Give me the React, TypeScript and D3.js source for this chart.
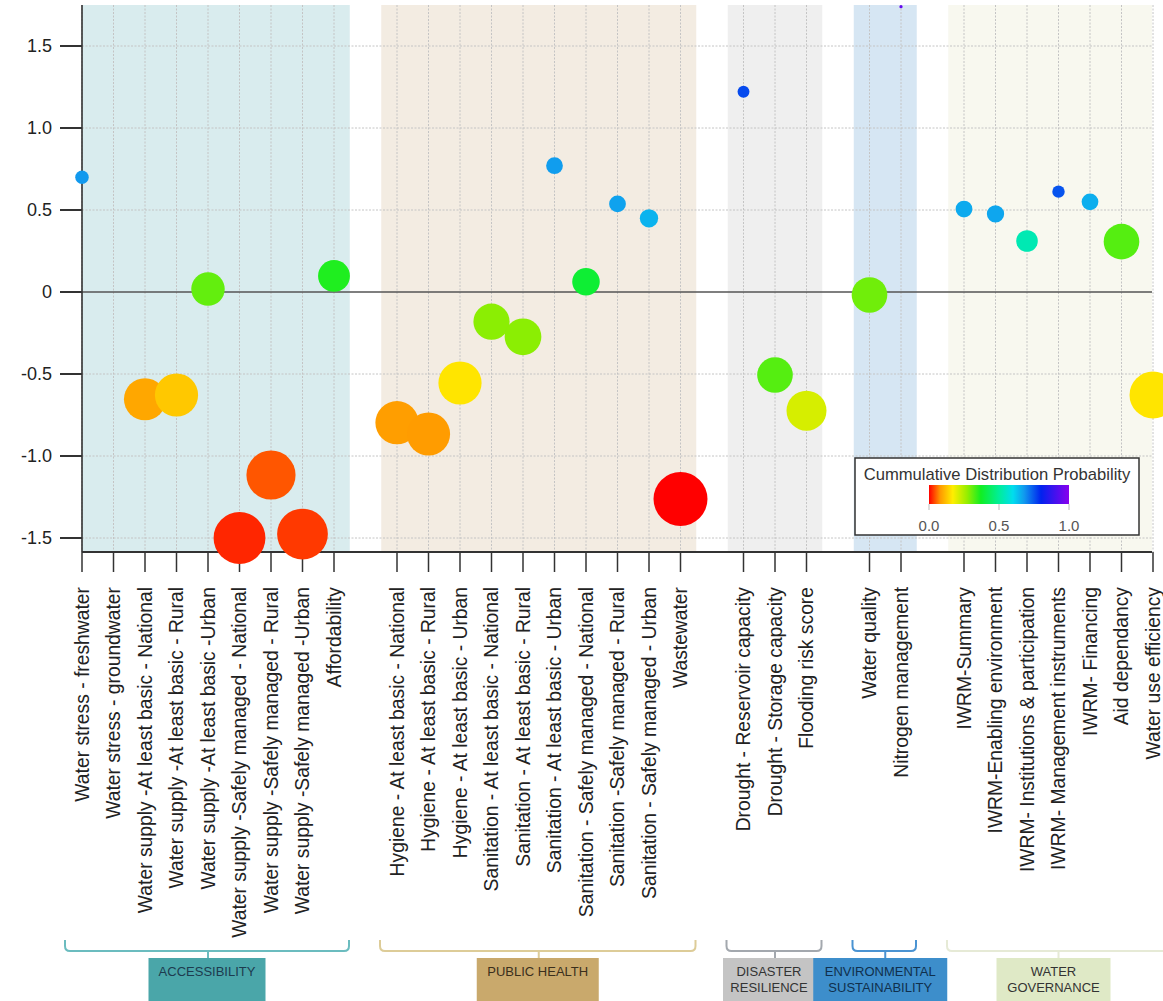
import React from "react";
import * as d3 from "d3";

// ---------- DATA ----------
const groupNames = [
  ["ACCESSIBILITY"],
  ["PUBLIC HEALTH"],
  ["DISASTER", "RESILIENCE"],
  ["ENVIRONMENTAL", "SUSTAINABILITY"],
  ["WATER", "GOVERNANCE"],
];

const indicatorNames = [
  "Water stress - freshwater",
  "Water stress - groundwater",
  "Water supply -At least basic - National",
  "Water supply -At least basic - Rural",
  "Water supply -At least basic -Urban",
  "Water supply -Safely managed - National",
  "Water supply -Safely managed - Rural",
  "Water supply -Safely managed -Urban",
  "Affordability",
  "Hygiene - At least basic - National",
  "Hygiene - At least basic - Rural",
  "Hygiene - At least basic - Urban",
  "Sanitation - At least basic - National",
  "Sanitation - At least basic - Rural",
  "Sanitation - At least basic - Urban",
  "Sanitation - Safely managed - National",
  "Sanitation -Safely managed - Rural",
  "Sanitation - Safely managed - Urban",
  "Wastewater",
  "Drought - Reservoir capacity",
  "Drought - Storage capacity",
  "Flooding risk score",
  "Water quality",
  "Nitrogen management",
  "IWRM-Summary",
  "IWRM-Enabling environment",
  "IWRM- Institutions & participation",
  "IWRM- Management instruments",
  "IWRM- Financing",
  "Aid dependancy",
  "Water use efficiency",
];

const indicatorGroup = [
  0, 0, 0, 0, 0, 0, 0, 0, 0,
  1, 1, 1, 1, 1, 1, 1, 1, 1, 1,
  2, 2, 2,
  3, 3,
  4, 4, 4, 4, 4, 4, 4,
];

// standardized score (y value); null = no data
const scores = [
  0.70, null, -0.654, -0.628, 0.018, -1.50, -1.116, -1.476, 0.098,
  -0.797, -0.866, -0.555, -0.181, -0.273, 0.770, 0.063, 0.537, 0.449, -1.262,
  1.221, -0.506, -0.724,
  -0.018, 1.74,
  0.506, 0.476, 0.311, 0.612, 0.550, 0.307, -0.628,
];

// cumulative distribution probability (colour)
const cdp = [
  0.68, null, 0.095, 0.13, 0.31, 0.02, 0.045, 0.03, 0.36,
  0.085, 0.083, 0.16, 0.28, 0.28, 0.675, 0.39, 0.67, 0.65, 0.0,
  0.76, 0.32, 0.21,
  0.30, 0.95,
  0.66, 0.665, 0.53, 0.75, 0.655, 0.32, 0.16,
];

// relative marker size
const sizes = [
  0.25, null, 0.78, 0.80, 0.62, 0.96, 0.91, 0.94, 0.59,
  0.80, 0.80, 0.80, 0.67, 0.68, 0.31, 0.51, 0.31, 0.34, 1.0,
  0.22, 0.66, 0.74,
  0.66, 0.06,
  0.31, 0.32, 0.40, 0.23, 0.31, 0.66, 0.87,
];

const yTicks = [1.5, 1.0, 0.5, 0, -0.5, -1.0, -1.5];
const yTickLabels = ["1.5", "1.0", "0.5", "0", "-0.5", "-1.0", "-1.5"];
const legendTicks = [0, 0.5, 1];
const legendTickLabels = ["0.0", "0.5", "1.0"];
const legendTitle = "Cummulative Distribution Probability";

// ---------- STYLE ----------
const bandFill = ["#d9ecee", "#f3ece2", "#efefef", "#d6e6f3", "#f8f8ef"];
const bracketColor = ["#6bbcbf", "#ddcc98", "#a3a8ae", "#4a93d2", "#e6ead6"];
const boxFill = ["#4aa6a9", "#c9a96c", "#c4c4c4", "#3d8ecb", "#dfe9c6"];
const boxText = ["#1d3b4f", "#3b2f1c", "#333333", "#10304d", "#333333"];
const boxWidth = [117, 122, 92, 134, 114];
const boxShift = [-1, -1, -6, -5, -5];
const colorStops: [number, string][] = [
  [0, "#ff0000"], [0.08, "#ff9900"], [0.17, "#ffee00"], [0.27, "#99ee00"],
  [0.37, "#11ee22"], [0.5, "#00ee99"], [0.6, "#00ddee"], [0.68, "#1199ee"],
  [0.8, "#0022ee"], [1, "#8800ee"],
];
const FONT = "Liberation Sans, Arial, Helvetica, sans-serif";

export default function App() {
  const W = 1163, H = 1001;
  const left = 82, right = 1152;
  const top = 5, bottom = 552;

  // slot positions: groups separated by one empty slot
  const slots: number[] = [];
  let s = 0;
  indicatorGroup.forEach((g, i) => {
    if (i > 0 && g !== indicatorGroup[i - 1]) s += 1;
    slots.push(s);
    s += 1;
  });
  const nSlots = slots[slots.length - 1];

  const x = d3.scaleLinear().domain([0, nSlots]).range([82, 1153]);
  const step = x(1) - x(0);
  const y = d3.scaleLinear().domain([-1.5, 1.5]).range([538, 46]);
  const r = d3.scaleLinear().domain([0, 1]).range([0, 27]);
  const color = d3
    .scaleLinear<string>()
    .domain(colorStops.map((d) => d[0]))
    .range(colorStops.map((d) => d[1]))
    .interpolate(d3.interpolateRgb);

  const groups = groupNames.map((name, g) => {
    const idx = indicatorGroup.map((gg, i) => (gg === g ? i : -1)).filter((i) => i >= 0);
    const x0 = x(slots[idx[0]]);
    const x1 = x(slots[idx[idx.length - 1]]);
    return { name, g, x0, x1, cx: (x0 + x1) / 2 };
  });

  const pad = step * 0.5;
  const gridTicks = yTicks.filter((t) => t !== 0);

  // legend
  const lgX = 855, lgY = 458, lgW = 284, lgH = 77;
  const lgBar = d3.scaleLinear().domain([0, 1]).range([929, 1069]);

  const points = indicatorNames
    .map((n, i) => ({ n, i, v: scores[i], c: cdp[i], sz: sizes[i] }))
    .filter((d) => d.v !== null);

  return (
    <svg
      width={W}
      height={H}
      style={{ position: "absolute", left: 0, top: 0, background: "#fff" }}
      fontFamily={FONT}
    >
      <defs>
        <linearGradient id="cdpGrad" x1="0" x2="1" y1="0" y2="0">
          {colorStops.map(([o, c]) => (
            <stop key={o} offset={o} stopColor={c} />
          ))}
        </linearGradient>
      </defs>

      {/* group bands */}
      {groups.map((gr) => {
        const a = Math.max(left, gr.x0 - pad);
        const b = Math.min(right, gr.x1 + pad);
        return <rect key={gr.g} x={a} y={top} width={b - a} height={bottom - top} fill={bandFill[gr.g]} />;
      })}

      {/* vertical grid */}
      {indicatorNames.map((n, i) => (
        <line key={n} x1={x(slots[i])} x2={x(slots[i])} y1={top} y2={bottom}
          stroke="#c4c4c4" strokeWidth={1} strokeDasharray="2,1.5" />
      ))}
      {/* horizontal grid */}
      {gridTicks.map((t) => (
        <line key={t} x1={left} x2={right} y1={y(t)} y2={y(t)}
          stroke="#c4c4c4" strokeWidth={1} strokeDasharray="2,1.5" />
      ))}
      {/* zero line */}
      <line x1={left} x2={right} y1={y(0)} y2={y(0)} stroke="#555" strokeWidth={1.6} />

      {/* y axis */}
      <line x1={left} x2={left} y1={top} y2={bottom} stroke="#333" strokeWidth={1.6} />
      {yTicks.map((t, i) => (
        <g key={t}>
          <line x1={60} x2={left} y1={y(t)} y2={y(t)} stroke="#333" strokeWidth={2} />
          <text x={52} y={y(t)} dy="0.36em" textAnchor="end" fontSize={18} fill="#222">
            {yTickLabels[i]}
          </text>
        </g>
      ))}

      {/* x axis */}
      <line x1={left} x2={right} y1={bottom} y2={bottom} stroke="#333" strokeWidth={2} />
      {indicatorNames.map((n, i) => (
        <g key={n}>
          <line x1={x(slots[i])} x2={x(slots[i])} y1={bottom} y2={572} stroke="#333" strokeWidth={1.5} />
          <text
            transform={`translate(${x(slots[i])},587) rotate(-90)`}
            textAnchor="end"
            dy="0.36em"
            fontSize={19.3}
            fill="#222"
          >
            {n}
          </text>
        </g>
      ))}

      {/* points */}
      {points.map((d) => (
        <circle key={d.n} cx={x(slots[d.i])} cy={y(d.v as number)} r={r(d.sz as number)}
          fill={color(d.c as number)} />
      ))}

      {/* legend */}
      <rect x={lgX} y={lgY} width={lgW} height={lgH} fill="#fff" stroke="#333" strokeWidth={1.5} />
      <text x={lgX + lgW / 2} y={lgY + 22} textAnchor="middle" fontSize={16.6} fill="#333">
        {legendTitle}
      </text>
      <rect x={lgBar(0)} y={485} width={lgBar(1) - lgBar(0)} height={19} fill="url(#cdpGrad)" />
      {legendTicks.map((t, i) => (
        <g key={t}>
          <line x1={lgBar(t)} x2={lgBar(t)} y1={504} y2={510} stroke="#bbb" strokeWidth={1} />
          <text x={lgBar(t)} y={526} dy="0.36em" textAnchor="middle" fontSize={15} fill="#555">
            {legendTickLabels[i]}
          </text>
        </g>
      ))}

      {/* brackets and group boxes */}
      {groups.map((gr) => {
        const a = gr.x0 - 17;
        const b = gr.x1 + 15;
        const yTop = 940, yLine = 951;
        const path = `M${a},${yTop} V${yLine - 5} Q${a},${yLine} ${a + 5},${yLine} H${b - 5} Q${b},${yLine} ${b},${yLine - 5} V${yTop} M${gr.cx},${yLine} V959`;
        return <path key={gr.g} d={path} fill="none" stroke={bracketColor[gr.g]} strokeWidth={2} />;
      })}
      {groups.map((gr) => {
        const bx = gr.cx + boxShift[gr.g] - boxWidth[gr.g] / 2;
        const lines = gr.name;
        return (
          <g key={gr.g}>
            <rect x={bx} y={958} width={boxWidth[gr.g]} height={50} fill={boxFill[gr.g]} />
            {lines.map((ln, k) => (
              <text key={ln} x={bx + boxWidth[gr.g] / 2}
                y={lines.length === 1 ? 976 : 976 + k * 16}
                textAnchor="middle" fontSize={13} fill={boxText[gr.g]}>
                {ln}
              </text>
            ))}
          </g>
        );
      })}
    </svg>
  );
}
